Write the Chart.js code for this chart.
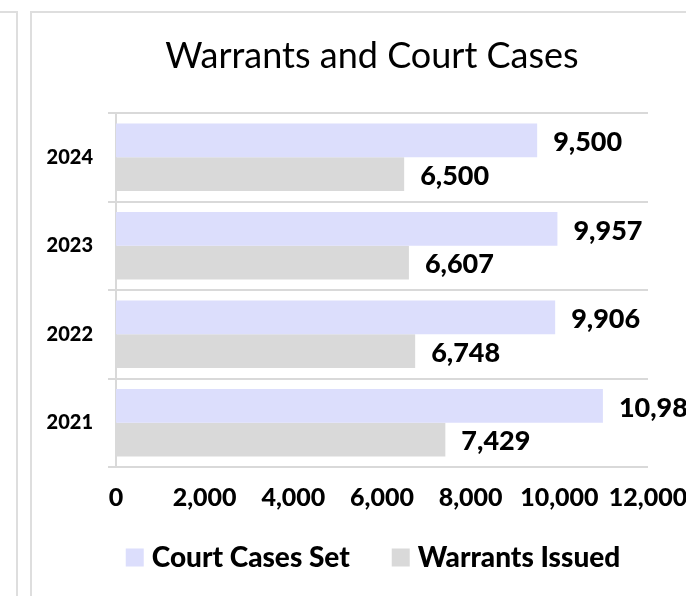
<!DOCTYPE html>
<html>
<head>
<meta charset="utf-8">
<script src="https://cdn.jsdelivr.net/npm/chart.js@4/dist/chart.umd.min.js"></script>
<style>
  html, body { margin: 0; padding: 0; background: #ffffff; overflow: hidden; }
  #wrap { position: relative; width: 686px; height: 596px; overflow: hidden; }
  .frameL { position: absolute; left: -10px; top: 11px; width: 24px; height: 700px; border: 2px solid #dedede; }
  .frameM { position: absolute; left: 30px; top: 11px; width: 800px; height: 700px; border: 2px solid #dedede; }
  canvas { position: absolute; left: 0; top: 0; }
</style>
</head>
<body>
<div id="wrap">
  <div class="frameL"></div>
  <div class="frameM"></div>
  <canvas id="c" width="720" height="596"></canvas>
</div>
<script>
const title = 'Warrants and Court Cases';
const categories = ['2024', '2023', '2022', '2021'];
const seriesNames = ['Court Cases Set', 'Warrants Issued'];
const courtCases = [9500, 9957, 9906, 10983];
const warrants = [6500, 6607, 6748, 7429];
const xTicks = [0, 2000, 4000, 6000, 8000, 10000, 12000];

const FONT = 'Lato, "Open Sans", sans-serif';
const BOLD = '900';
const fmt = v => Number(v).toLocaleString('en-US');
const LEGEND_PAD = 48;
const LEGEND_FONT = 28;

const valueLabels = {
  id: 'valueLabels',
  afterDatasetsDraw(chart) {
    const ctx = chart.ctx;
    ctx.save();
    ctx.font = BOLD + ' 27px ' + FONT;
    ctx.fillStyle = '#000000';
    ctx.textAlign = 'left';
    ctx.textBaseline = 'middle';
    chart.data.datasets.forEach((ds, di) => {
      const meta = chart.getDatasetMeta(di);
      meta.data.forEach((bar, i) => {
        ctx.fillText(fmt(ds.data[i]), bar.x + 16, bar.y + 2);
      });
    });
    ctx.restore();
  }
};

// place the legend row where the reference has it
const legendPlacer = {
  id: 'legendPlacer',
  afterLayout(chart) {
    const lg = chart.legend;
    if (!lg) return;
    const dy = (lg.top + LEGEND_PAD + LEGEND_FONT / 2) - 557.5;
    lg.top -= dy; lg.bottom -= dy;
    const dx = 4;
    lg.left += dx; lg.right += dx;
  }
};

new Chart(document.getElementById('c'), {
  type: 'bar',
  data: {
    labels: categories,
    datasets: [
      { label: seriesNames[0], data: courtCases, backgroundColor: '#dcdefc', borderWidth: 0 },
      { label: seriesNames[1], data: warrants, backgroundColor: '#d9d9d9', borderWidth: 0 }
    ]
  },
  options: {
    indexAxis: 'y',
    responsive: false,
    animation: false,
    devicePixelRatio: 1,
    categoryPercentage: 0.76,
    barPercentage: 1.0,
    layout: { padding: { left: 40, right: 16, top: 0, bottom: 0 } },
    plugins: {
      title: {
        display: true,
        text: title,
        color: '#000000',
        font: { family: FONT, size: 36, weight: 'normal', lineHeight: 1.2 },
        padding: { top: 34.4, bottom: 35.4 }
      },
      legend: {
        display: true,
        position: 'bottom',
        labels: {
          color: '#000000',
          font: { family: FONT, size: LEGEND_FONT, weight: BOLD },
          boxWidth: 6,
          boxHeight: 6,
          padding: LEGEND_PAD,
          generateLabels: (chart) => {
            const items = Chart.defaults.plugins.legend.labels.generateLabels(chart);
            items.forEach(it => { it.lineWidth = 12; it.strokeStyle = it.fillStyle; });
            return items;
          }
        }
      },
      tooltip: { enabled: false }
    },
    scales: {
      x: {
        min: 0,
        max: 12000,
        afterBuildTicks: (scale) => { scale.ticks = xTicks.map(v => ({ value: v })); },
        afterFit: (scale) => { scale.height = 43; },
        grid: { display: false, drawTicks: false },
        border: { display: false },
        ticks: {
          color: '#000000',
          padding: 18,
          maxRotation: 0,
          autoSkip: false,
          font: { family: FONT, size: 25, weight: BOLD, lineHeight: 1 },
          callback: (v) => fmt(v)
        }
      },
      y: {
        afterFit: (scale) => { scale.width = 76; },
        grid: { color: '#d9d9d9', lineWidth: 2, tickLength: 8, offset: true },
        border: { color: '#d9d9d9', width: 2 },
        ticks: {
          color: '#000000',
          padding: 15,
          font: { family: FONT, size: 20, weight: BOLD }
        }
      },
      y2: {
        type: 'category',
        axis: 'y',
        position: 'right',
        labels: categories,
        afterFit: (scale) => { scale.width = 56; },
        grid: { display: false, drawTicks: false },
        border: { display: false },
        ticks: { display: false }
      }
    }
  },
  plugins: [valueLabels, legendPlacer]
});
</script>
</body>
</html>
